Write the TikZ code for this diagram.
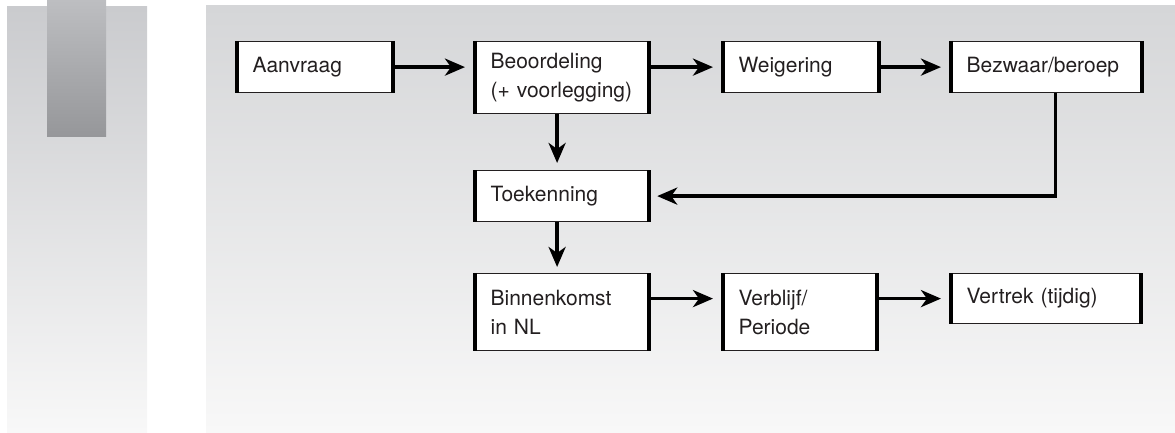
\documentclass[tikz,border=0pt]{standalone}
\usepackage{fontspec}
\setmainfont{TeX Gyre Heros}
\usepackage{tikz}
\usetikzlibrary{calc,arrows.meta}
\definecolor{paneltop}{RGB}{213,214,216}
\definecolor{panelmid}{RGB}{222,223,225}
\definecolor{panelbot}{RGB}{248,248,248}
\definecolor{striptop}{RGB}{202,203,206}
\definecolor{stripmid}{RGB}{212,213,215}
\definecolor{tabtop}{RGB}{189,190,193}
\definecolor{tabbot}{RGB}{150,151,154}
\definecolor{txt}{RGB}{35,31,32}

\begin{document}
\begin{tikzpicture}[x=1pt,y=1pt,
    box/.style={draw=txt, line width=1.2pt, fill=white, anchor=north west,
        inner xsep=15pt, inner ysep=0pt, align=left, text=txt,
        font=\fontsize{21}{29}\selectfont},
    sides/.style={line width=3.8pt, black},
    pijl/.style={line width=3.7pt, -{Stealth[length=20pt,width=17pt,inset=6pt]},
        shorten >=10pt}]
        \useasboundingbox (0,0) rectangle (1175,432);
        \shade[top color=striptop, middle color=stripmid, bottom color=panelbot] (7,0) rectangle (147,425);
        \shade[top color=tabtop, bottom color=tabbot] (47,296) rectangle (106,432);
        \shade[top color=paneltop, middle color=panelmid, bottom color=panelbot] (206,0) rectangle (1175,426);

        \node[box, text width=125pt, minimum height=51pt] (aanvraag) at (237,391) {Aanvraag};
        \node[box, text width=143pt, minimum height=72pt] (beoordeling) at (475,391) {Beoordeling\\(+ voorlegging)};
        \node[box, text width=125pt, minimum height=51pt] (weigering) at (723,391) {Weigering};
        \node[box, text width=160pt, minimum height=51pt] (bezwaar) at (951,391) {Bezwaar/beroep};
        \node[box, text width=143pt, minimum height=51pt] (toekenning) at (475,262) {Toekenning};
        \node[box, text width=143pt, minimum height=77pt] (binnenkomst) at (475,159) {Binnenkomst\\in NL};
        \node[box, text width=123pt, minimum height=77pt] (verblijf) at (723,159) {Verblijf/\\Periode};
        \node[box, text width=159pt, minimum height=50pt] (vertrek) at (951,159) {Vertrek (tijdig)};

        \foreach \n in {aanvraag,beoordeling,weigering,bezwaar,toekenning,binnenkomst,verblijf,vertrek}
        \draw[sides] (\n.north west) -- (\n.south west) (\n.north east) -- (\n.south east);

        \draw[pijl] (aanvraag) -- (beoordeling.west |- aanvraag);
        \draw[pijl] (beoordeling.east |- weigering) -- (weigering);
        \draw[pijl] (weigering) -- (bezwaar);
        \draw[pijl, shorten >=7pt] ([xshift=-5pt]beoordeling.south) -- ([xshift=-5pt]toekenning.north);
        \draw[pijl, shorten >=8pt] ([xshift=9pt]bezwaar.south) |- (toekenning.east);
        \draw[pijl, shorten >=6pt] ([xshift=-5pt]toekenning.south) -- ([xshift=-5pt]binnenkomst.north);
        \draw[pijl] (binnenkomst.east |- vertrek) -- (verblijf.west |- vertrek);
        \draw[pijl] (verblijf.east |- vertrek) -- (vertrek);
    \end{tikzpicture}
\end{document}
